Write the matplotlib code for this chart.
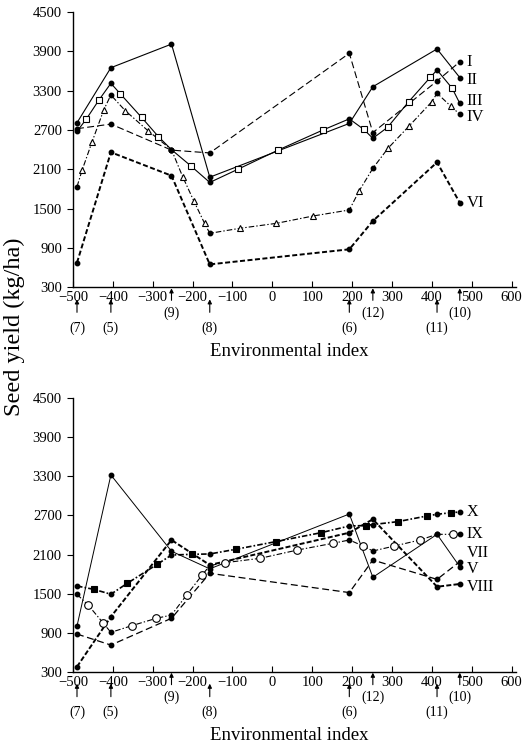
import matplotlib
matplotlib.use('Agg')
import matplotlib.pyplot as plt
from matplotlib.transforms import blended_transform_factory, ScaledTranslation

plt.rcParams['font.family'] = ['Liberation Serif', 'DejaVu Serif']
plt.rcParams['lines.scale_dashes'] = False
plt.rcParams['axes.unicode_minus'] = True

# ---------------- data ----------------
env_x = [-490, -405, -253, -157, 193, 252, 413, 470]
env_labels = ['(7)', '(5)', '(9)', '(8)', '(6)', '(12)', '(11)', '(10)']
env_high = [False, False, True, False, False, True, False, True]

x_ticks = [-500, -400, -300, -200, -100, 0, 100, 200, 300, 400, 500, 600]
y_ticks = [300, 900, 1500, 2100, 2700, 3300, 3900, 4500]

# top panel
I_y = [2720, 2790, 2393, 2350, 3870, 2660, 3447, 3740]
II_y = [2810, 3650, 4010, 1980, 2800, 3360, 3936, 3500]
III_y = [2680, 3412, 2400, 1900, 2870, 2573, 3615, 3107]
III_sq_x = [-467, -435, -381, -328, -286, -205, -85, 15, 127, 229, 289, 342, 396, 451]
III_sq_y = [2863, 3157, 3249, 2892, 2600, 2155, 2105, 2395, 2700, 2710, 2741, 3132, 3503, 3336]
IV_y = [1835, 3234, 2400, 1124, 1480, 2115, 3260, 2939]
IV_tri_x = [-477, -452, -423, -369, -312, -225, -197, -170, -82, 10, 102, 218, 290, 343, 400, 447]
IV_tri_y = [2090, 2522, 3005, 2995, 2689, 1988, 1617, 1276, 1200, 1276, 1388, 1774, 2421, 2761, 3132, 3066]
VI_y = [676, 2360, 2003, 650, 880, 1312, 2207, 1591]

# bottom panel
V_y = [1001, 3322, 2150, 1880, 2722, 1750, 2410, 1913]
VII_y = [878, 709, 1120, 1811, 1515, 2015, 1718, 1990]
VIII_y = [376, 1144, 2323, 1939, 2435, 2641, 1605, 1647]
IX_y = [1488, 904, 1170, 1930, 2323, 2154, 2410, 2410]
IX_circ_x = [-462, -425, -353, -291, -215, -176, -119, -31, 63, 152, 228, 306, 370, 452]
IX_circ_y = [1324, 1052, 1006, 1120, 1478, 1785, 1974, 2041, 2169, 2272, 2230, 2230, 2323, 2410]
X_y = [1616, 1490, 2092, 2108, 2538, 2560, 2718, 2753]
X_sq_x = [-448, -364, -289, -201, -92, 8, 122, 235, 314, 387, 448]
X_sq_y = [1565, 1657, 1949, 2103, 2180, 2297, 2435, 2545, 2604, 2691, 2742]

# ---------------- figure ----------------
fig = plt.figure(figsize=(5.26, 7.44), dpi=100)
ax1 = fig.add_axes([0.1388, 0.6138, 0.8414, 0.3701])
ax2 = fig.add_axes([0.1388, 0.0972, 0.8414, 0.3675])


def merged(ex, ey, mx=None, my=None):
    pts = list(zip(ex, ey))
    if mx is not None:
        pts += list(zip(mx, my))
    pts.sort(key=lambda p: p[0])
    return [p[0] for p in pts], [p[1] for p in pts]


def series(ax, ey, name, dashes, lw, label_dy=0, mx=None, my=None, marker=None,
           mfc='white', ms=4.5, fs=12):
    xs, ys = merged(env_x, ey, mx, my)
    line, = ax.plot(xs, ys, color='black', lw=lw, zorder=2)
    if dashes is None:
        line.set_linestyle('-')
    else:
        line.set_dashes(dashes)
    if mx is not None:
        ax.plot(mx, my, linestyle='none', marker=marker, ms=ms, mfc=mfc,
                mec='black', mew=0.8, zorder=3)
    ax.plot(env_x, ey, linestyle='none', marker='o', ms=3.2, mfc='black',
            mec='black', zorder=4)
    ax.annotate(name, xy=(env_x[-1], ey[-1]), xytext=(5, label_dy),
                textcoords='offset points', va='center', ha='left',
                fontsize=fs, annotation_clip=False)


# top
series(ax1, I_y, 'I', (5, 2.4), 0.8)
series(ax1, II_y, 'II', None, 0.8, label_dy=-2)
series(ax1, III_y, 'III', None, 0.8, label_dy=2, mx=III_sq_x, my=III_sq_y,
       marker='s', ms=4.5)
series(ax1, IV_y, 'IV', (4, 1.5, 1, 1.5), 0.8, label_dy=-2, mx=IV_tri_x,
       my=IV_tri_y, marker='^', ms=5)
series(ax1, VI_y, 'VI', (3.6, 1.8), 1.4)

# bottom
series(ax2, V_y, 'V', None, 0.7, label_dy=-2, fs=11.5)
series(ax2, VII_y, 'VII', (5, 2.6), 0.9, label_dy=6, fs=11.5)
series(ax2, VIII_y, 'VIII', (3.6, 1.6), 1.4, label_dy=-2, fs=11.5)
series(ax2, IX_y, 'IX', (4, 1.5, 1, 1.5), 0.8, mx=IX_circ_x, my=IX_circ_y,
       marker='o', ms=5.5, fs=11.5)
series(ax2, X_y, 'X', (4, 1.5, 1.2, 1.5), 1.2, mx=X_sq_x, my=X_sq_y,
       marker='s', mfc='black', ms=4.2, fs=11.5)


def style(ax):
    ax.set_xlim(-500, 610)
    ax.set_ylim(300, 4500)
    ax.set_xticks(x_ticks)
    ax.set_yticks(y_ticks)
    for s in ['top', 'right']:
        ax.spines[s].set_visible(False)
    for s in ['left', 'bottom']:
        ax.spines[s].set_linewidth(1.0)
    ax.tick_params(axis='x', direction='in', length=4, width=0.8, pad=3,
                   labelsize=10.5)
    ax.tick_params(axis='y', direction='out', length=4, width=0.8, pad=4,
                   labelsize=10.5)
    base = blended_transform_factory(ax.transData, ax.transAxes)
    for x, lab, high in zip(env_x, env_labels, env_high):
        if high:
            head, tail, ty = 1, 13, 26
        else:
            head, tail, ty = 12, 25, 41
        th = base + ScaledTranslation(0, -head / 100, fig.dpi_scale_trans)
        tt = base + ScaledTranslation(0, -tail / 100, fig.dpi_scale_trans)
        ax.annotate('', xy=(x, 0), xycoords=th, xytext=(x, 0), textcoords=tt,
                    arrowprops=dict(arrowstyle='-|>', color='black', lw=0.8,
                                    mutation_scale=6, shrinkA=0, shrinkB=0),
                    annotation_clip=False)
        tl = base + ScaledTranslation(0, -ty / 100, fig.dpi_scale_trans)
        ax.text(x, 0, lab, transform=tl, ha='center', va='center',
                fontsize=10, clip_on=False)


style(ax1)
style(ax2)

fig.text(289 / 526, 1 - 352 / 744, 'Environmental index', ha='center',
         va='center', fontsize=13.5)
fig.text(289 / 526, 1 - 735 / 744, 'Environmental index', ha='center',
         va='center', fontsize=13.5)
fig.text(14 / 526, 1 - 327 / 744, 'Seed yield (kg/ha)', rotation=90,
         ha='center', va='center', fontsize=17.5)

fig.savefig('out.png', dpi=100)
